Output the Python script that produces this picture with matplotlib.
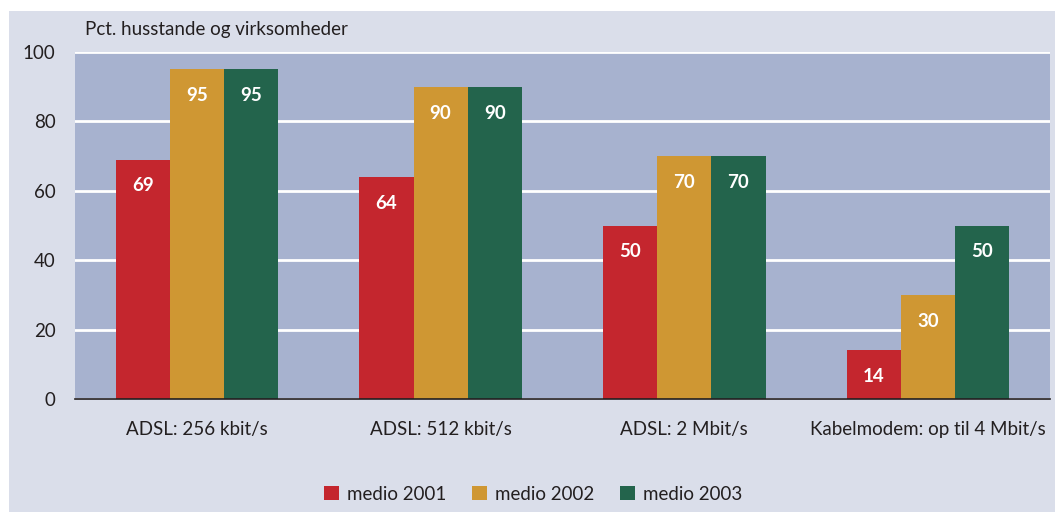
import matplotlib
matplotlib.use("Agg")
import matplotlib.pyplot as plt
from matplotlib.patches import Rectangle
import numpy as np

categories = ["ADSL: 256 kbit/s", "ADSL: 512 kbit/s", "ADSL: 2 Mbit/s",
              "Kabelmodem: op til 4 Mbit/s"]
series_names = ["medio 2001", "medio 2002", "medio 2003"]
medio_2001 = [69, 64, 50, 14]
medio_2002 = [95, 90, 70, 30]
medio_2003 = [95, 90, 70, 50]
colors = ["#c4262e", "#cf9733", "#23644c"]
yticks = [0, 20, 40, 60, 80, 100]

plt.rcParams["font.family"] = ["Lato", "DejaVu Sans"]
txt = "#231f20"

fig = plt.figure(figsize=(10.55, 5.12), dpi=100)
fig.patch.set_facecolor("white")
# outer lavender panel
fig.patches.append(Rectangle((9 / 1055, 0), 1, 1 - 11 / 512, transform=fig.transFigure,
                             facecolor="#dadeea", edgecolor="none", zorder=-1))

ax = fig.add_axes([75 / 1055, 1 - 399 / 512, (1050 - 75) / 1055, (399 - 52) / 512])
ax.set_zorder(2)
ax.set_facecolor("#a7b2cf")

x = np.arange(len(categories))
w = 0.222
for i, (vals, name) in enumerate(zip([medio_2001, medio_2002, medio_2003], series_names)):
    bars = ax.bar(x + (i - 1) * w, vals, w, color=colors[i], label=name, zorder=3)
    for b, v in zip(bars, vals):
        ax.annotate(str(v), (b.get_x() + b.get_width() / 2, v), xytext=(0, -19),
                    textcoords="offset points", ha="center", va="center",
                    color="white", fontsize=13.5, fontweight="bold", zorder=4)

ax.set_xlim(-0.5, 3.5)
ax.set_ylim(0, 100)
ax.set_yticks(yticks)
ax.yaxis.grid(True, color="white", linewidth=2)
ax.set_axisbelow(True)
for s in ["top", "right", "left"]:
    ax.spines[s].set_visible(False)
ax.spines["bottom"].set_color("#231f20")
ax.spines["bottom"].set_linewidth(1.2)
ax.spines["bottom"].set_zorder(5)
ax.tick_params(axis="y", length=0, pad=14, labelsize=13.5, labelcolor=txt)
ax.tick_params(axis="x", length=0, pad=16, labelsize=13.5, labelcolor=txt)
ax.set_xticks(x)
ax.set_xticklabels(categories)

fig.text(85 / 1055, 1 - 30 / 512, "Pct. husstande og virksomheder", fontsize=13.5,
         color=txt, va="center", ha="left")

leg = fig.legend(loc="center", bbox_to_anchor=(533 / 1055, 1 - 494 / 512), ncol=3,
                 frameon=False, fontsize=13.5, handlelength=0.8, handleheight=0.8,
                 handletextpad=0.4, columnspacing=1.4, labelcolor=txt)

fig.savefig("out.png", dpi=100)
